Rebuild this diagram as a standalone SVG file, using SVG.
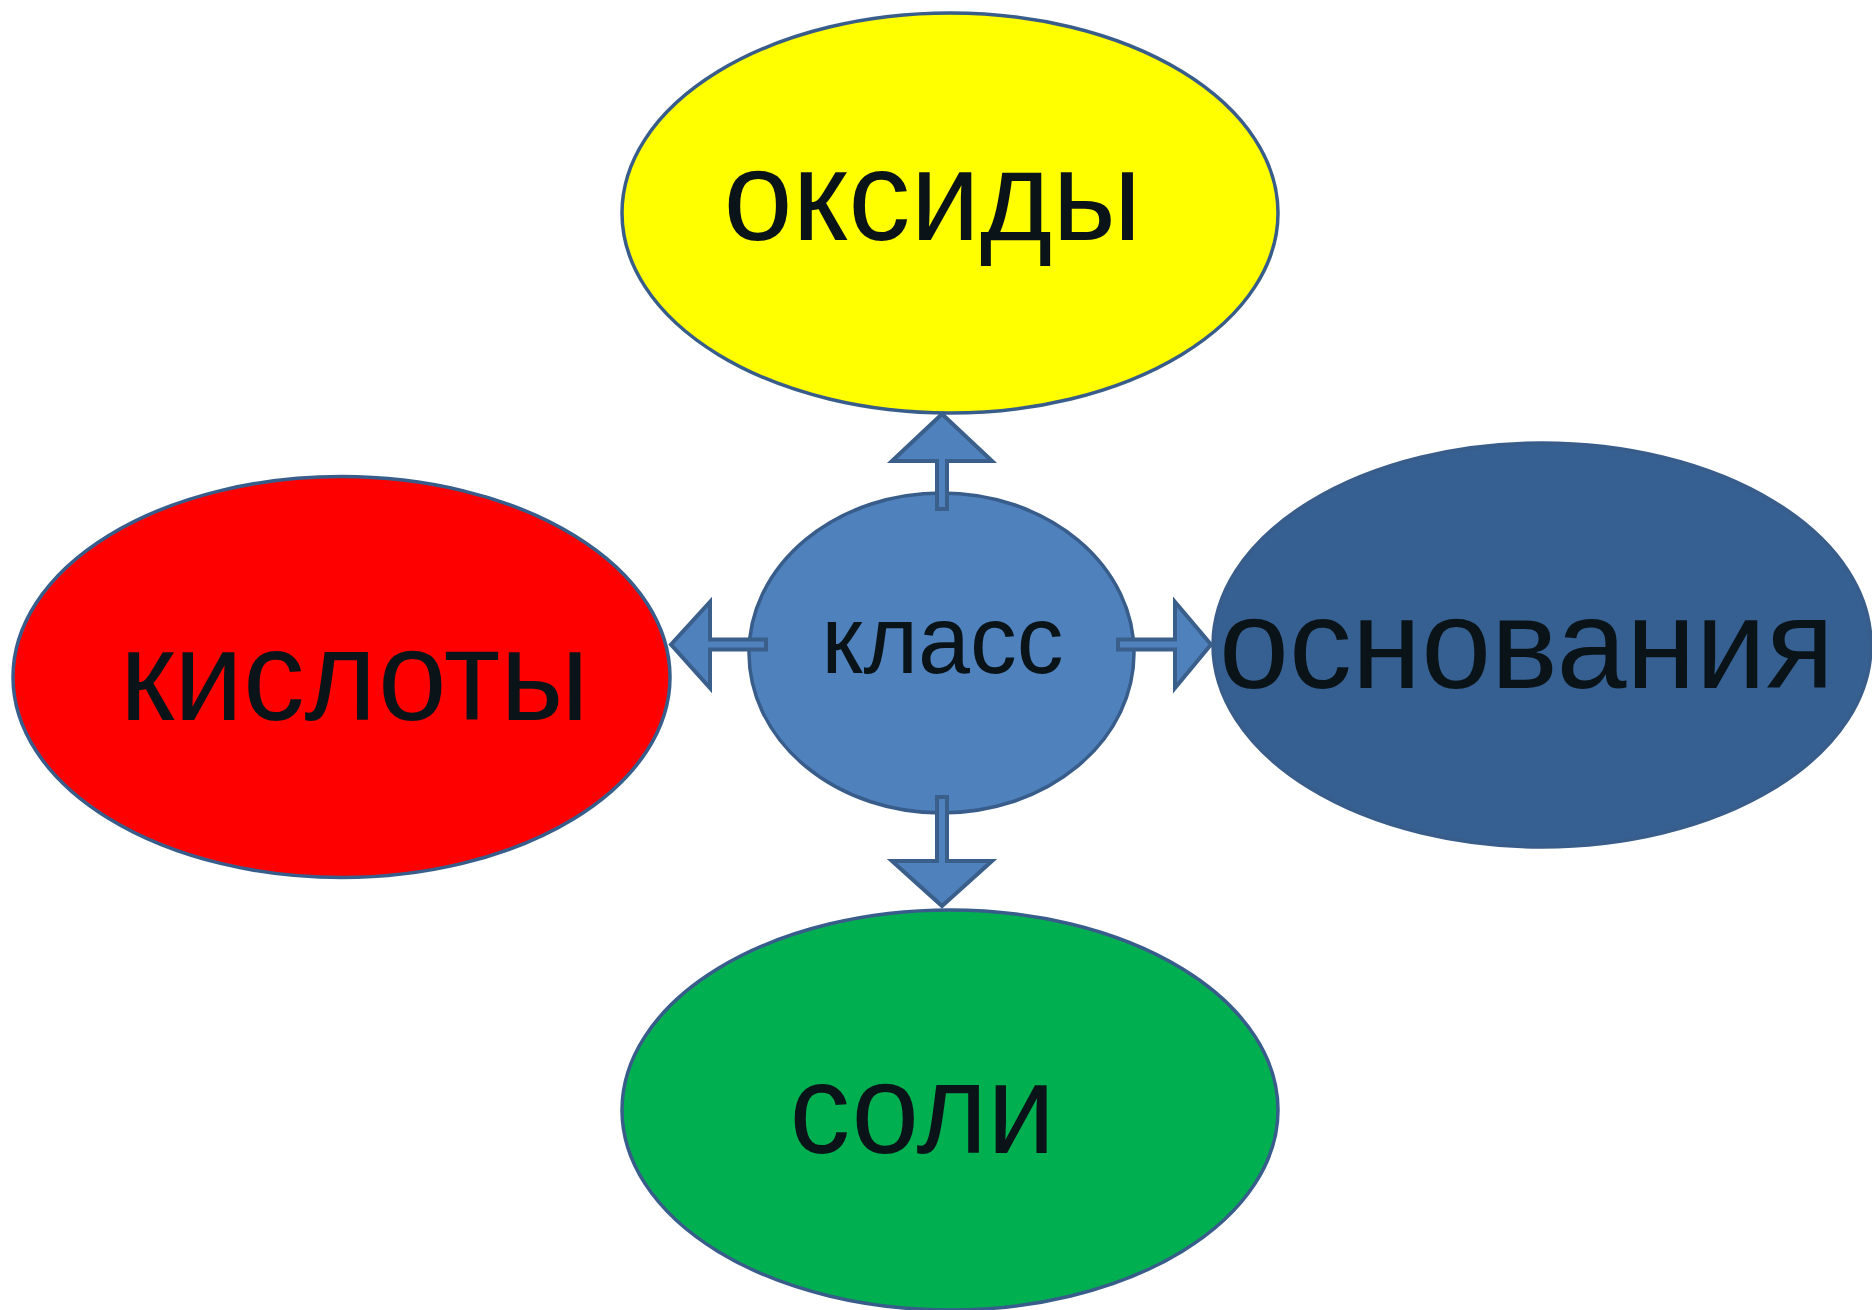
<svg xmlns="http://www.w3.org/2000/svg" width="1872" height="1310" viewBox="0 0 1872 1310">
<style>
.node{stroke:#385d8a;stroke-width:3.5}
.lbl{font-family:"Liberation Sans",Arial,sans-serif;fill:#0a1418}
.big{font-size:128px}
.small{font-size:96px}
.arrow{fill:#4f81bd;stroke:#3a5f8b;stroke-width:4;stroke-linejoin:miter}
</style>
<rect width="1872" height="1310" fill="#ffffff"/>
<g id="oxides">
<ellipse class="node" cx="950" cy="213" rx="328" ry="200" fill="#ffff00"/>
<text class="lbl big" x="723.5" y="240" textLength="418" lengthAdjust="spacingAndGlyphs">оксиды</text>
</g>
<g id="acids">
<ellipse class="node" cx="341.5" cy="677" rx="328.5" ry="200.5" fill="#ff0000"/>
<text class="lbl big" x="120" y="720" textLength="469" lengthAdjust="spacingAndGlyphs">кислоты</text>
</g>
<g id="bases">
<ellipse class="node" cx="1542" cy="645" rx="329" ry="202" fill="#376092"/>
<text class="lbl big" x="1219" y="688" textLength="615" lengthAdjust="spacingAndGlyphs">основания</text>
</g>
<g id="salts">
<ellipse class="node" cx="950" cy="1110" rx="328" ry="200" fill="#00b050"/>
<text class="lbl big" x="789.5" y="1153" textLength="265.5" lengthAdjust="spacingAndGlyphs">соли</text>
</g>
<g id="center">
<ellipse class="node" cx="941.5" cy="653" rx="192.5" ry="160" fill="#4f81bd"/>
<text class="lbl small" x="821.5" y="673" textLength="242" lengthAdjust="spacingAndGlyphs">класс</text>
</g>
<g id="connectors">
<polygon class="arrow" points="942,414 992,461 947,461 947,509 937,509 937,461 892,461"/>
<polygon class="arrow" points="942,906 992,861 947,861 947,797 937,797 937,861 892,861"/>
<polygon class="arrow" points="671,644.5 710,602 710,639.5 766,639.5 766,649.5 710,649.5 710,688"/>
<polygon class="arrow" points="1211,644.5 1175,602 1175,639.5 1118,639.5 1118,649.5 1175,649.5 1175,688"/>
</g>
</svg>
